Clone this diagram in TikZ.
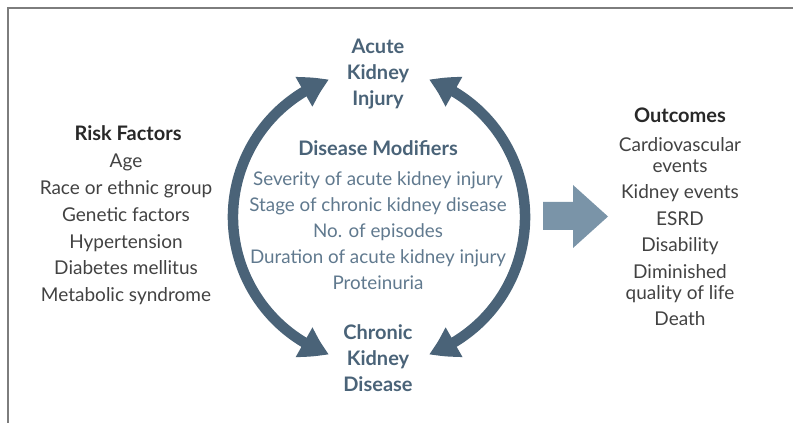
\documentclass[tikz,border=0pt]{standalone}
\usepackage{fontspec}
\setmainfont{Lato}
\usepackage{tikz}
\usetikzlibrary{arrows.meta,bending}
\definecolor{slate}{RGB}{74,99,120}
\definecolor{slatelight}{RGB}{96,121,142}
\definecolor{arrowblue}{RGB}{122,148,168}
\definecolor{inkdark}{RGB}{40,40,40}
\definecolor{inkgray}{RGB}{66,66,66}
\definecolor{framegray}{RGB}{125,125,125}
\tikzstyle{cycletext}=[font=\bfseries\fontsize{20}{26}\selectfont,text=slate,align=center,inner sep=0pt]
\newcommand{\ringradius}{146}

\begin{document}
\begin{tikzpicture}[x=1pt,y=1pt]
    \tikzstyle{headtext}=[font=\bfseries\fontsize{20}{26}\selectfont,text=inkdark,align=center,inner sep=0pt]
    \tikzstyle{listtext}=[font=\fontsize{19}{26.8}\selectfont,text=inkgray,align=center,inner sep=0pt]
    \tikzstyle{modtext}=[font=\fontsize{18.8}{26}\selectfont,text=slatelight,align=center,inner sep=0pt]
    \tikzstyle{ringarrow}=[draw=slate,line width=10.5pt,{Triangle[width=32pt,length=28pt,bend]}-{Triangle[width=32pt,length=28pt,bend]}]

    \useasboundingbox (0,0) rectangle (793,423);
    \draw[framegray,line width=2pt] (8,0) -- (8,415) -- (793,415);

    % the cycle
    \coordinate (c) at (379,206);
    \coordinate (lt) at ([shift={(110:\ringradius)}]c);
    \coordinate (lb) at ([shift={(250:\ringradius)}]c);
    \coordinate (rt) at ([shift={(70:\ringradius)}]c);
    \coordinate (rb) at ([shift={(-70:\ringradius)}]c);

    \node[cycletext] (aki) at (378,349) {Acute\\Kidney\\Injury};
    \node[cycletext] (ckd) at (378,65)  {Chronic\\Kidney\\Disease};

    \draw[ringarrow] (lb) arc[start angle=250,end angle=110,radius=\ringradius];
    \draw[ringarrow] (rt) arc[start angle=70,end angle=-70,radius=\ringradius];

    \node[cycletext] (dm) at (378,275) {Disease Modifiers};
    \node[modtext] (dmlist) at (378,192) {Severity of acute kidney injury\\Stage of chronic kidney disease\\No. of episodes\\Duration of acute kidney injury\\Proteinuria};

    % left and right columns
    \node[headtext] (rf) at (128,290) {Risk Factors};
    \node[listtext] (rflist) at (126,193.5) {Age\\Race or ethnic group\\Genetic factors\\Hypertension\\Diabetes mellitus\\Metabolic syndrome};

    \node[headtext] (oc) at (680,308) {Outcomes};
    \node[listtext,font=\fontsize{19}{21}\selectfont] (oclist) at (680,191.5) {Cardiovascular\\events\\[5.5pt]Kidney events\\[5.5pt]ESRD\\[5.5pt]Disability\\[5.5pt]Diminished\\quality of life\\[5.5pt]Death};

    \fill[arrowblue] (543,221) -- (573,221) -- (573,238) -- (608,206.5) -- (573,175) -- (573,193) -- (543,193) -- cycle;

\end{tikzpicture}
\end{document}
